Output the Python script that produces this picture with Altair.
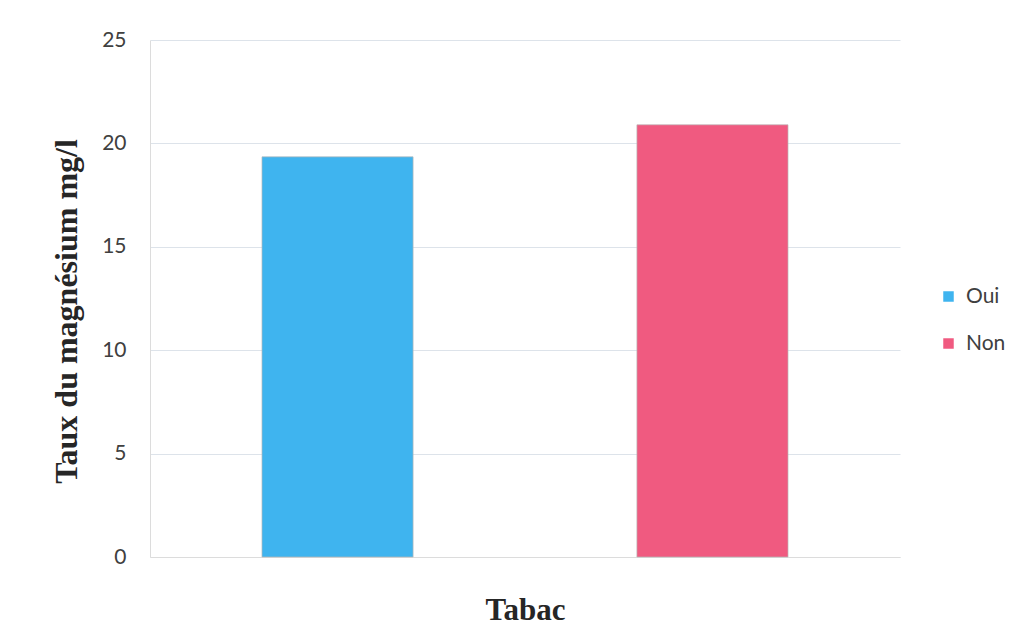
import altair as alt
import pandas as pd

# Magnesium level by smoking status
categories = ["Oui", "Non"]
values = [19.35, 20.9]
colors = ["#3fb4ef", "#f05a80"]

df = pd.DataFrame({"Tabac": categories, "Taux": values})

label_font = "Lato"
title_font = "Liberation Serif"

chart = alt.Chart(df).mark_bar(
    stroke="#b8b8b8", strokeWidth=0.7
).encode(
    x=alt.X(
        "Tabac:N",
        sort=categories,
        scale=alt.Scale(paddingInner=0.597, paddingOuter=0.2987),
        axis=alt.Axis(
            title="Tabac",
            labels=False,
            ticks=False,
            grid=False,
            domainColor="#dcdcdc",
            titleFont=title_font,
            titleFontSize=31,
            titleFontWeight="bold",
            titleColor="#262626",
            titleY=53,
            titleBaseline="middle",
        ),
    ),
    y=alt.Y(
        "Taux:Q",
        scale=alt.Scale(domain=[0, 25]),
        axis=alt.Axis(
            title="Taux du magnésium mg/l",
            values=[0, 5, 10, 15, 20, 25],
            ticks=False,
            labelPadding=24,
            labelFont=label_font,
            labelFontSize=21,
            labelColor="#404040",
            domainColor="#dcdcdc",
            gridColor="#dde3ea",
            titleFont=title_font,
            titleFontSize=32,
            titleFontWeight="bold",
            titleColor="#262626",
            titleX=-84,
            titleY=271,
            titleAngle=-90,
            titleBaseline="middle",
        ),
    ),
    color=alt.Color(
        "Tabac:N",
        sort=categories,
        scale=alt.Scale(domain=categories, range=colors),
        legend=alt.Legend(
            title=None,
            orient="none",
            legendX=788,
            legendY=246,
            symbolType="square",
            symbolSize=110,
            symbolStrokeWidth=0,
            labelFont=label_font,
            labelFontSize=21,
            labelColor="#404040",
            rowPadding=25,
            labelOffset=7,
        ),
    ),
).properties(
    width=750,
    height=517,
    autosize=alt.AutoSizeParams(type="none"),
    padding={"left": 150, "top": 40, "right": 122, "bottom": 70},
).configure(
    background="white",
).configure_view(
    stroke=None,
)

chart.save("out.html", embed_options={"renderer": "svg", "actions": False})
